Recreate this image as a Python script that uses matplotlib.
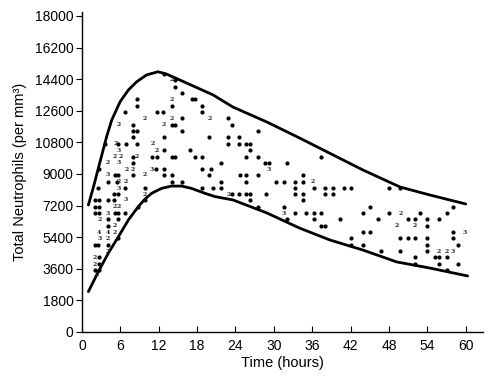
"""Total neutrophil count vs time, with upper/lower envelope curves."""
import matplotlib
matplotlib.use("Agg")
import matplotlib.pyplot as plt

plt.rcParams["font.family"] = ["Liberation Sans", "DejaVu Sans"]

# envelope curves (hours, cells per mm3)
upper_hours = [1.0, 1.8, 2.55, 3.3, 3.85, 4.65, 5.95, 7.25, 8.55, 10.1, 11.9, 13.2,
               15.3, 20.5, 23.6, 28.9, 34.0, 43.9, 49.7, 54.4, 60.0]
upper_values = [7230, 8270, 9320, 10360, 11120, 12070, 13110, 13780, 14250, 14640, 14820, 14690,
                14350, 13500, 12810, 11960, 11050, 9230, 8260, 7800, 7290]
lower_hours = [1.0, 2.55, 4.1, 5.7, 7.25, 8.8, 9.85, 10.9, 12.45, 14.0, 15.6, 17.1,
               19.2, 20.8, 23.6, 28.9, 34.0, 38.75, 43.9, 49.2, 54.4, 60.3]
lower_values = [2300, 3430, 4480, 5430, 6380, 7140, 7570, 7900, 8180, 8310, 8310, 8180,
                7900, 7710, 7520, 6780, 5920, 5240, 4670, 3990, 3640, 3190]

# single observations, grouped by count level
dot_rows = {
    14670: [12.8],
    14350: [14.5],
    13970: [14.5],
    13590: [15.7],
    13250: [8.6, 17.2, 17.7],
    12870: [8.6, 14.0, 18.7],
    12510: [6.8, 11.7, 12.7, 18.7],
    12170: [15.7, 22.9],
    11790: [8.0, 14.0, 14.5, 23.4],
    11450: [8.0, 8.6, 15.7, 27.5],
    11100: [8.0, 12.8, 19.9, 22.9, 24.5],
    10730: [3.6, 5.7, 6.9, 8.6, 22.9, 24.5, 25.7, 26.3],
    10360: [12.8, 16.9, 26.3],
    9980: [8.0, 11.0, 11.7, 14.0, 14.5, 17.7, 18.7, 25.7, 27.5, 37.4],
    9630: [8.0, 21.7, 28.6, 29.2, 32.1],
    9280: [2.7, 11.6, 12.8, 18.7, 20.1],
    8940: [5.2, 5.7, 8.0, 12.8, 14.0, 19.9, 24.7, 25.7, 27.5, 34.5],
    8560: [4.0, 5.4, 14.0, 15.7, 21.7, 25.7, 30.4, 31.6, 33.3, 34.5],
    8180: [2.5, 6.8, 9.8, 18.7, 20.5, 21.7, 33.3, 36.3, 38.0, 39.3, 40.9, 42.1, 48.0, 49.7],
    7840: [5.0, 5.6, 23.4, 24.5, 25.7, 26.3, 28.7, 33.3, 34.5, 38.0, 39.2],
    7520: [2.0, 2.7, 4.0, 5.0, 9.8, 26.3, 34.5],
    7140: [2.0, 2.7, 8.8, 27.5, 31.6, 45.0, 58.0],
    6760: [2.0, 2.7, 5.1, 5.7, 6.8, 33.3, 35.1, 36.3, 37.4, 44.0, 48.0, 52.8, 57.0],
    6420: [4.0, 5.7, 32.1, 36.3, 40.3, 46.3, 51.0, 52.1, 53.9, 55.8],
    6050: [4.0, 37.3, 38.0, 53.9],
    5680: [44.0, 45.0, 58.0],
    5330: [5.7, 42.1, 49.7, 51.0, 52.1, 53.9, 58.0],
    4950: [2.0, 2.5, 4.0, 42.1, 44.0, 53.9, 58.8],
    4610: [46.8, 49.7, 53.9],
    4270: [2.7, 52.1, 55.2, 55.8, 57.0],
    3870: [2.7, 52.1, 55.8, 58.8],
    3530: [2.0, 2.7, 57.0],
}

# overlapping observations, drawn as their count
multi_hours = [14.0, 14.0, 9.8, 14.0, 19.9, 5.8, 12.8, 5.2, 11.0, 5.7, 11.7,
               5.1, 6.0, 8.6, 4.0, 5.7, 7.0, 8.0, 10.9, 29.2, 4.0, 9.8,
               5.8, 6.9, 36.1, 5.7, 9.8, 23.0, 6.8, 5.1, 5.7, 4.0, 31.6, 49.8,
               2.7, 5.1, 49.2, 52.1, 2.7, 4.0, 5.1, 59.8, 2.7, 4.0,
               4.0, 55.8, 57.0, 58.0, 2.0, 2.0, 2.3]
multi_values = [14350, 13250, 12170, 12170, 12170, 11790, 11790, 10730, 10730, 10360, 10360,
                9980, 9980, 9980, 9630, 9630, 9280, 9280, 9280, 9280, 8940, 8940,
                8560, 8560, 8560, 8180, 7840, 7840, 7520, 7140, 7140, 6760, 6760, 6760,
                6420, 6050, 6050, 6050, 5680, 5680, 5680, 5680, 5330, 5330,
                4610, 4610, 4610, 4610, 4270, 3870, 3250]
multi_counts = [2, 2, 2, 2, 2, 2, 2, 2, 2, 3, 2,
                2, 2, 2, 2, 3, 2, 2, 3, 3, 3, 2,
                2, 2, 2, 3, 2, 2, 3, 2, 2, 3, 3, 2,
                2, 2, 2, 2, 4, 4, 2, 3, 3, 2,
                2, 2, 2, 3, 2, 2, 2]

fig = plt.figure(figsize=(5.0, 3.77), dpi=100)
ax = fig.add_axes([0.164, 0.1194, 0.802, 0.8496])

ax.plot(upper_hours, upper_values, color="black", linewidth=2.0,
        solid_capstyle="round", solid_joinstyle="round")
ax.plot(lower_hours, lower_values, color="black", linewidth=2.0,
        solid_capstyle="round", solid_joinstyle="round")

for level, hours in dot_rows.items():
    ax.plot(hours, [level] * len(hours), linestyle="none", marker="o",
            markersize=2.0, color="black")

for h, v, c in zip(multi_hours, multi_values, multi_counts):
    ax.text(h, v, str(c), ha="center", va="center", fontsize=4.5,
            family="DejaVu Serif", fontweight="bold", color="#222222")

ax.set_xlim(0, 62.7)
ax.set_ylim(0, 18240)
ax.set_xticks(range(0, 61, 6))
ax.set_yticks(range(0, 18001, 1800))
ax.spines[["top", "right"]].set_visible(False)
ax.spines[["left", "bottom"]].set_linewidth(1.0)
ax.tick_params(axis="x", direction="in", length=4, labelsize=10, pad=5)
ax.tick_params(axis="y", direction="out", length=4, labelsize=10, pad=2)
ax.set_xlabel("Time (hours)", fontsize=10.5, labelpad=2)
ax.set_ylabel("Total Neutrophils (per mm³)", fontsize=10.5, labelpad=6)

fig.savefig("out.png", dpi=100)
plt.close(fig)
